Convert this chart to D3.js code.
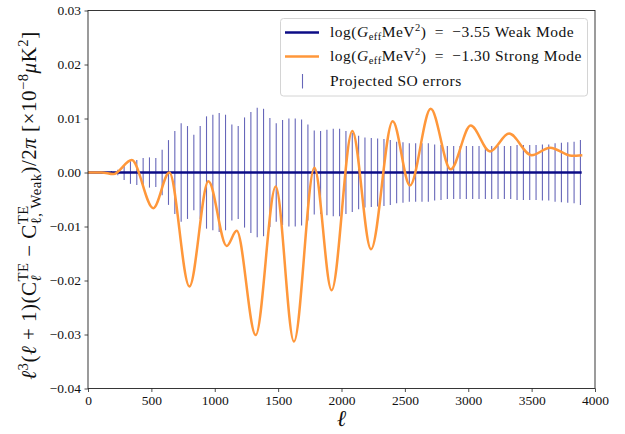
<!DOCTYPE html>
<html><head><meta charset="utf-8">
<script src="https://cdn.jsdelivr.net/npm/d3@7"></script>
<style>body{margin:0;background:#fff} svg{display:block}</style>
</head><body><svg id="c" width="625" height="434"></svg>
<script>
// ---- data ----
const strongL = [0, 108, 200, 345, 515, 642, 800, 950, 1094, 1173, 1323, 1481, 1625, 1786, 1922, 2085, 2233, 2404, 2540, 2704, 2861, 3019, 3172, 3322, 3500, 3645, 3816, 3900];
const strongV = [0, 0, -0.0003, 0.0023, -0.0066, 0.0000, -0.0211, -0.0016, -0.0136, -0.0108, -0.0301, -0.0026, -0.0313, 0.0009, -0.0218, 0.0077, -0.0142, 0.0095, -0.0024, 0.0118, 0.0006, 0.0087, 0.0039, 0.0072, 0.0032, 0.0046, 0.0031, 0.0032];
const weakL = [0, 3895];
const weakV = [0, 0];
const errL = [185, 235, 285, 335, 385, 435, 485, 535, 585, 635, 685, 735, 785, 835, 885, 935, 985, 1035, 1085, 1135, 1185, 1235, 1285,
  1335, 1385, 1435, 1485, 1535, 1585, 1635, 1685, 1735, 1785, 1835, 1885, 1935, 1985, 2035, 2085, 2135, 2185, 2235, 2285, 2335, 2385, 2435, 2485, 2535, 2585, 2635,
  2685, 2735, 2785, 2835, 2885, 2935, 2985, 3035, 3085, 3135, 3185, 3235, 3285, 3335, 3385, 3435, 3485, 3535, 3585, 3635, 3685, 3735, 3785, 3835, 3885];
const errV = [0.0003, 0.0005, 0.0014, 0.0021, 0.0023, 0.0027, 0.0028, 0.0027, 0.0042, 0.0060, 0.0077, 0.0091, 0.0086, 0.0070, 0.0086, 0.0104, 0.0107, 0.0110, 0.0107, 0.0089, 0.0086, 0.0102, 0.0112,
  0.0120, 0.0118, 0.0101, 0.0091, 0.0097, 0.0100, 0.0100, 0.0098, 0.0089, 0.0078, 0.0077, 0.0079, 0.0081, 0.0081, 0.0077, 0.0073, 0.0068, 0.0065, 0.0064, 0.0063, 0.0062, 0.0060, 0.0057, 0.0056, 0.0054, 0.0054, 0.0054,
  0.0054, 0.0052, 0.0051, 0.0049, 0.0049, 0.0049, 0.0049, 0.0049, 0.0049, 0.0049, 0.0049, 0.0049, 0.0049, 0.0049, 0.0051, 0.0051, 0.0051, 0.0051, 0.0052, 0.0052, 0.0054, 0.0055, 0.0056, 0.0057, 0.0060];
const xTicks = [0, 500, 1000, 1500, 2000, 2500, 3000, 3500, 4000];
const yTicks = [-0.04, -0.03, -0.02, -0.01, 0.00, 0.01, 0.02, 0.03];
const legendValues = ["−3.55", "−1.30"];
const legendModes = ["Weak Mode", "Strong Mode"];
const legendErr = "Projected SO errors";

// ---- drawing ----
const FONT = "'Liberation Serif', 'DejaVu Serif', serif";
const svg = d3.select("#c");
const X0 = 88, X1 = 595, Y0 = 388.5, Y1 = 10.5;
const x = d3.scaleLinear().domain([0, 4000]).range([X0, X1]);
const y = d3.scaleLinear().domain([-0.04, 0.03]).range([Y0, Y1]);

const BLUE = "#0c0c86", ORANGE = "#ff973a", ERR = "#00008b";

// error bars
svg.append("g").selectAll("line").data(errL).join("line")
  .attr("x1", d => x(d)).attr("x2", d => x(d))
  .attr("y1", (d, i) => y(errV[i])).attr("y2", (d, i) => y(-errV[i]))
  .attr("stroke", ERR).attr("stroke-opacity", 0.6).attr("stroke-width", 1.1);

// weak line
svg.append("path").datum(weakL.map((l, i) => [l, weakV[i]]))
  .attr("d", d3.line().x(d => x(d[0])).y(d => y(d[1])))
  .attr("fill", "none").attr("stroke", BLUE).attr("stroke-width", 2.5);

// strong line
svg.append("path").datum(strongL.map((l, i) => [l, strongV[i]]))
  .attr("d", d3.line().x(d => x(d[0])).y(d => y(d[1])).curve(d3.curveMonotoneX))
  .attr("fill", "none").attr("stroke", ORANGE).attr("stroke-width", 2.5);

// axes
const fmtY = d3.format(".2f");
const gx = svg.append("g").attr("transform", `translate(0,${Y0})`)
  .call(d3.axisBottom(x).tickValues(xTicks).tickFormat(d3.format("d")).tickSize(3.5).tickPadding(3.5));
const gy = svg.append("g").attr("transform", `translate(${X0},0)`)
  .call(d3.axisLeft(y).tickValues(yTicks).tickFormat(fmtY).tickSize(3.5).tickPadding(3.5));
[gx, gy].forEach(g => {
  g.select(".domain").remove();
  g.selectAll(".tick line").attr("stroke", "#222").attr("stroke-width", 0.8);
  g.selectAll(".tick text").attr("font-family", FONT).attr("font-size", 13.5).attr("fill", "#111");
});
svg.append("rect").attr("x", X0).attr("y", Y1).attr("width", X1 - X0).attr("height", Y0 - Y1)
  .attr("fill", "none").attr("stroke", "#222").attr("stroke-width", 0.9);

// rich text helper: segments with italic / size / baseline shift; "stack" places a
// subscript under the preceding superscript, then continues after the wider of the two
function rich(text, segs, fs) {
  let cur = 0, prevNode = null, pending = 0;
  segs.forEach(s => {
    const target = s.sh || 0;
    const t = text.append("tspan").attr("font-size", fs * (s.sz || 1))
      .attr("font-style", s.it ? "italic" : "normal").text(s.t);
    if (target - cur !== 0) t.attr("dy", target - cur);
    let dx = pending;
    pending = 0;
    if (s.stack && prevNode) {
      const wPrev = prevNode.getComputedTextLength();
      dx += -wPrev;
      const wThis = t.node().getComputedTextLength();
      pending = Math.max(0, wPrev - wThis);
    }
    if (dx) t.attr("dx", dx);
    cur = target;
    prevNode = t.node();
  });
}

// legend
const lg = svg.append("g");
lg.append("rect").attr("x", 280.5).attr("y", 18.5).attr("width", 307).attr("height", 77.5).attr("rx", 3)
  .attr("fill", "#fff").attr("fill-opacity", 0.8).attr("stroke", "#d4d4d4").attr("stroke-width", 1);
const LF = 15.5;
[[BLUE, 32.5], [ORANGE, 56.5]].forEach(([c, yy], i) => {
  lg.append("line").attr("x1", 285).attr("x2", 319).attr("y1", yy).attr("y2", yy)
    .attr("stroke", c).attr("stroke-width", 2.5);
  const t = lg.append("text").attr("x", 330).attr("y", yy + 4.5).attr("font-family", FONT)
    .attr("letter-spacing", 0.5).attr("fill", "#111");
  rich(t, [
    { t: "log(" }, { t: "G", it: true }, { t: "eff", sz: 0.68, sh: 3 }, { t: "MeV" },
    { t: "2", sz: 0.68, sh: -6 }, { t: ")\u2002=\u2002" + legendValues[i] + " " + legendModes[i] }
  ], LF);
});
lg.append("line").attr("x1", 302.5).attr("x2", 302.5).attr("y1", 74).attr("y2", 88.5)
  .attr("stroke", ERR).attr("stroke-opacity", 0.6).attr("stroke-width", 1.1);
lg.append("text").attr("x", 330).attr("y", 85.5).attr("font-family", FONT).attr("font-size", LF)
  .attr("letter-spacing", 0.5).attr("fill", "#111").text(legendErr);

// x label
svg.append("text").attr("x", (X0 + X1) / 2).attr("y", 426).attr("text-anchor", "middle")
  .attr("font-family", FONT).attr("font-size", 23).attr("font-style", "italic").attr("fill", "#111").text("ℓ");

// y label
const YF = 21;
const yl = svg.append("text").attr("transform", `translate(36,${(Y0 + Y1) / 2 + 6}) rotate(-90)`)
  .attr("text-anchor", "middle").attr("font-family", FONT).attr("letter-spacing", 0.5).attr("fill", "#111");
rich(yl, [
  { t: "ℓ", it: true }, { t: "3", sz: 0.7, sh: -8 }, { t: "(" }, { t: "ℓ", it: true }, { t: " + 1)(C" },
  { t: "TE", sz: 0.7, sh: -8 }, { t: "ℓ", sz: 0.7, sh: 5, it: true, stack: true }, { t: " − C" },
  { t: "TE", sz: 0.7, sh: -8 }, { t: "ℓ, Weak", sz: 0.7, sh: 5, stack: true }, { t: ")/2" }, { t: "π", it: true },
  { t: " [×10" }, { t: "−8", sz: 0.7, sh: -8 }, { t: "μ", it: true }, { t: "K" }, { t: "2", sz: 0.7, sh: -8 }, { t: "]" }
], YF);
</script>
</body></html>
